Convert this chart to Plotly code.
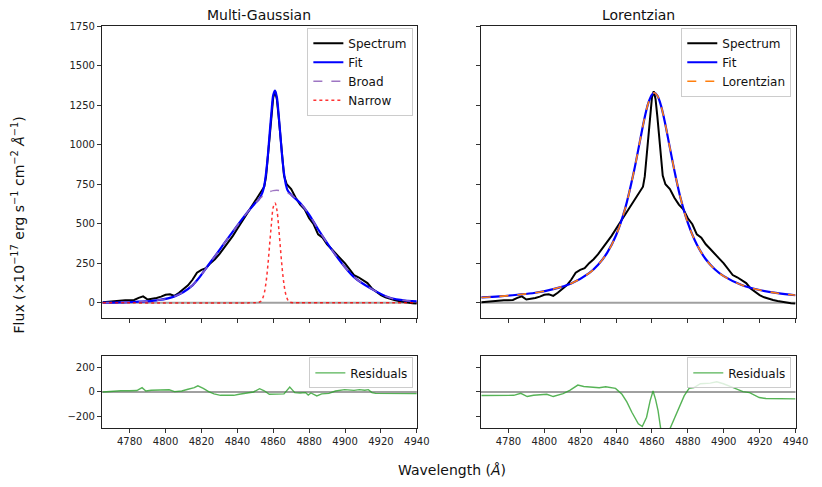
import plotly.graph_objects as go

# ---------------- data ----------------
wl_spec = [4765, 4767.5, 4770, 4772.5, 4775, 4777.5, 4780, 4782.5, 4785, 4787.5,
           4790, 4792.5, 4795, 4797.5, 4800, 4802.5, 4805, 4807.5, 4810, 4812.5,
           4815, 4817.5, 4820, 4822.5, 4825, 4827.5, 4830, 4832.5, 4835, 4837.5,
           4840, 4842.5, 4845, 4847.5, 4850, 4852.5, 4855,
           4856, 4857.5, 4859, 4860, 4861, 4862, 4863, 4864, 4865, 4866,
           4867.5, 4870, 4872.5, 4875, 4877.5, 4880, 4882.5, 4885, 4887.5, 4890,
           4892.5, 4895, 4897.5, 4900, 4902.5, 4905, 4907.5, 4910, 4912.5, 4915,
           4917.5, 4920, 4922.5, 4925, 4927.5, 4930, 4932.5, 4935, 4937.5, 4940]
flux_spec = [2, 5, 8, 12, 14, 15, 16, 17, 30, 40,
             20, 24, 30, 38, 50, 53, 43, 63, 84, 110,
             145, 190, 208, 218, 250, 275, 307, 345, 384, 423,
             468, 512, 559, 603, 648, 690, 735,
             800, 975, 1190, 1300, 1340, 1290, 1180, 1040, 905, 805,
             750, 720, 665, 621, 591, 535, 497, 433, 412, 370,
             340, 306, 279, 249, 211, 175, 161, 143, 124, 90,
             68, 48, 34, 23, 17, 11, 5, 0, -3, -6]

wl_fit = [4765, 4775, 4785, 4795, 4805, 4815, 4825, 4835, 4845, 4850,
          4852, 4854, 4855, 4856, 4857, 4858, 4859, 4860, 4861, 4862,
          4863, 4864, 4865, 4866, 4867, 4868, 4870, 4875, 4880, 4885,
          4895, 4905, 4915, 4925, 4935, 4940]
flux_fit = [0, 2, 6, 15, 40, 110, 256, 412, 564, 631,
            655, 699, 743, 822, 932, 1072, 1206, 1315, 1344, 1303,
            1193, 1057, 923, 819, 751, 713, 684, 631, 558, 465,
            298, 162, 86, 31, 12, 8]

wl_broad = [4765, 4775, 4785, 4795, 4805, 4815, 4825, 4835, 4845, 4850, 4855,
            4860, 4865, 4870, 4875, 4880, 4885, 4895, 4905, 4915, 4925, 4935, 4940]
flux_broad = [0, 2, 6, 15, 40, 110, 256, 412, 564, 631, 683,
              710, 708, 683, 631, 558, 465, 298, 162, 86, 31, 12, 8]

wl_narrow = [4765, 4850, 4852, 4853, 4854, 4855, 4856, 4857, 4858, 4859, 4860,
             4861, 4862, 4863, 4864, 4865, 4866, 4867, 4868, 4869, 4870, 4872, 4940]
flux_narrow = [0, 0, 3, 8, 25, 60, 130, 235, 370, 500, 605,
               632, 590, 480, 345, 215, 115, 52, 20, 6, 1, 0, 0]

wl_lor = [4765, 4775, 4785, 4795, 4805, 4815, 4825, 4830, 4835, 4840,
          4845, 4850, 4853, 4856, 4858, 4860, 4861.3, 4863, 4865, 4867,
          4870, 4873, 4876, 4880, 4885, 4890, 4895, 4900, 4910, 4920,
          4930, 4940]
flux_lor = [33, 40, 50, 63, 86, 122, 187, 240, 315, 427,
            594, 834, 1006, 1176, 1266, 1318, 1330, 1312, 1250, 1154,
            981, 810, 660, 505, 368, 275, 212, 168, 112, 80,
            60, 47]

wl_res_mg = [4765, 4770, 4775, 4780, 4784, 4786.9, 4789, 4792, 4796, 4800,
             4802, 4805, 4809, 4812, 4816, 4818, 4821, 4824, 4827, 4830.6,
             4834, 4838, 4841, 4846, 4849, 4852.4, 4855, 4857.8, 4862, 4866,
             4869.2, 4872, 4875, 4877, 4878, 4879.5, 4881, 4884.3, 4887, 4891,
             4894.7, 4899.8, 4902, 4905, 4908, 4911, 4913, 4915, 4917, 4920,
             4925, 4930, 4935, 4940]
res_mg = [0, 8, 10, 10, 12, 35, 8, 14, 16, 20,
          18, 3, 8, 20, 35, 50, 30, 3, -15, -27,
          -28, -27, -18, -5, 0, 27, 10, -19, -20, -15,
          40, -5, -8, -10, -5, -25, -8, -32, -15, -11,
          8, 19, 14, 13, 19, 14, 19, -5, -11, -12,
          -8, -10, -12, -13]

wl_res_lor = [4765, 4770, 4775, 4780, 4783, 4786.9, 4790.5, 4794, 4797.8, 4801.4,
              4805, 4808, 4810.5, 4814.2, 4818.7, 4822, 4825, 4828, 4830.6, 4834.2,
              4839.7, 4843.3, 4846, 4848.8, 4852.4, 4854.6, 4857, 4859, 4860.6, 4862,
              4863.4, 4865.2, 4867, 4868.8, 4871.6, 4874, 4876.1, 4878, 4880.7, 4883.4,
              4887, 4892.5, 4896.1, 4899.8, 4905.3, 4910.7, 4914.4, 4917, 4919.8, 4923.5,
              4929, 4935, 4940]
res_lor = [-29, -28, -27, -26, -27, -11, -37, -27, -21, -19,
           -37, -25, -13, 13, 56, 45, 40, 40, 35, 43,
           29, -19, -80, -165, -259, -280, -205, -70, 8, -60,
           -152, -330, -400, -340, -245, -160, -99, -30, 29, 35,
           67, 72, 83, 67, 35, 3, -5, -25, -45, -53,
           -53, -55, -56]

x_ticks = [4780, 4800, 4820, 4840, 4860, 4880, 4900, 4920, 4940]
flux_ticks = [0, 250, 500, 750, 1000, 1250, 1500, 1750]
res_ticks = [-200, 0, 200]

titles = ["Multi-Gaussian", "Lorentzian"]
ylabel = "Flux (×10<sup>−17</sup> erg s<sup>−1</sup> cm<sup>−2</sup> <i>Å</i><sup>−1</sup>)"
xlabel = "Wavelength (<i>Å</i>)"

# ---------------- styling ----------------
FONT = "DejaVu Sans"
BLACK = "#000000"
BLUE = "#0000ff"
PURPLE = "rgba(148,103,189,0.9)"
RED = "rgba(255,0,0,0.8)"
ORANGE = "#ff7f0e"
GREEN = "rgba(44,160,44,0.8)"

fig = go.Figure()

# top-left: multi-gaussian
fig.add_trace(go.Scatter(x=wl_spec, y=flux_spec, mode="lines", name="Spectrum",
                         line=dict(color=BLACK, width=2), xaxis="x", yaxis="y", legend="legend"))
fig.add_trace(go.Scatter(x=wl_fit, y=flux_fit, mode="lines", name="Fit", line_shape="spline",
                         line=dict(color=BLUE, width=2.2), xaxis="x", yaxis="y", legend="legend"))
fig.add_trace(go.Scatter(x=wl_broad, y=flux_broad, mode="lines", name="Broad", line_shape="spline",
                         line=dict(color=PURPLE, width=1.5, dash="dash"), xaxis="x", yaxis="y", legend="legend"))
fig.add_trace(go.Scatter(x=wl_narrow, y=flux_narrow, mode="lines", name="Narrow", line_shape="spline",
                         line=dict(color=RED, width=1.5, dash="dot"), xaxis="x", yaxis="y", legend="legend"))

# top-right: lorentzian
fig.add_trace(go.Scatter(x=wl_spec, y=flux_spec, mode="lines", name="Spectrum",
                         line=dict(color=BLACK, width=2), xaxis="x2", yaxis="y2", legend="legend2"))
fig.add_trace(go.Scatter(x=wl_lor, y=flux_lor, mode="lines", name="Fit", line_shape="spline",
                         line=dict(color=BLUE, width=2.2), xaxis="x2", yaxis="y2", legend="legend2"))
fig.add_trace(go.Scatter(x=wl_lor, y=flux_lor, mode="lines", name="Lorentzian", line_shape="spline",
                         line=dict(color=ORANGE, width=1.6, dash="dash"), xaxis="x2", yaxis="y2", legend="legend2"))

# residuals
fig.add_trace(go.Scatter(x=wl_res_mg, y=res_mg, mode="lines", name="Residuals",
                         line=dict(color=GREEN, width=1.4), xaxis="x3", yaxis="y3", legend="legend3"))
fig.add_trace(go.Scatter(x=wl_res_lor, y=res_lor, mode="lines", name="Residuals",
                         line=dict(color=GREEN, width=1.4), xaxis="x4", yaxis="y4", legend="legend4"))

# domains (paper fractions)
XL = [103.5 / 822, 423.5 / 822]
XR = [488.3 / 822, 808.3 / 822]
YT = [1 - 316.7 / 487, 1 - 21.7 / 487]
YB = [1 - 427.7 / 487, 1 - 354.3 / 487]
XRANGE = [4764.5, 4940]

def xax(domain, anchor, labels):
    return dict(domain=domain, anchor=anchor, range=XRANGE, tickmode="array", tickvals=x_ticks,
                showticklabels=labels, ticks="outside", ticklen=4, tickwidth=1, tickcolor="#333",
                showline=True, mirror=True, linecolor="#222", linewidth=1, showgrid=False,
                zeroline=False, tickfont=dict(family=FONT, size=10, color="#222"))

def yax(domain, anchor, rng, vals, labels):
    return dict(domain=domain, anchor=anchor, range=rng, tickmode="array", tickvals=vals,
                showticklabels=labels, ticks="outside", ticklen=4, tickwidth=1, tickcolor="#333",
                showline=True, mirror=True, linecolor="#222", linewidth=1, showgrid=False,
                zeroline=False, tickfont=dict(family=FONT, size=10, color="#222"))

legend_style = dict(bgcolor="rgba(255,255,255,0.8)", bordercolor="#cccccc", borderwidth=1,
                    font=dict(family=FONT, size=12, color="#111"), xanchor="right", yanchor="top",
                    itemclick=False, tracegroupgap=0)

fig.update_layout(
    autosize=True,
    margin=dict(l=0, r=0, t=0, b=0),
    paper_bgcolor="white", plot_bgcolor="white",
    font=dict(family=FONT),
    xaxis=xax(XL, "y", False), yaxis=yax(YT, "x", [-100, 1750], flux_ticks, True),
    xaxis2=xax(XR, "y2", False), yaxis2=yax(YT, "x2", [-100, 1750], flux_ticks, False),
    xaxis3=xax(XL, "y3", True), yaxis3=yax(YB, "x3", [-295, 295], res_ticks, True),
    xaxis4=xax(XR, "y4", True), yaxis4=yax(YB, "x4", [-295, 295], res_ticks, False),
    legend=dict(x=420 / 822, y=1 - 23 / 487, **legend_style),
    legend2=dict(x=804 / 822, y=1 - 23 / 487, **legend_style),
    legend3=dict(x=420 / 822, y=1 - 356 / 487, **legend_style),
    legend4=dict(x=804 / 822, y=1 - 356 / 487, **legend_style),
    showlegend=True,
)

# zero reference lines
for xr, yr in [("x", "y"), ("x2", "y2"), ("x3", "y3"), ("x4", "y4")]:
    fig.add_shape(type="line", xref=f"{xr} domain", yref=yr, x0=0, x1=1, y0=0, y1=0,
                  line=dict(color="rgba(128,128,128,0.75)", width=2), layer="below")

# titles and axis labels
fig.add_annotation(text=titles[0], xref="paper", yref="paper", x=(XL[0] + XL[1]) / 2, y=1 - 10 / 487,
                   showarrow=False, font=dict(family=FONT, size=14, color="#111"),
                   xanchor="center", yanchor="middle")
fig.add_annotation(text=titles[1], xref="paper", yref="paper", x=(XR[0] + XR[1]) / 2, y=1 - 10 / 487,
                   showarrow=False, font=dict(family=FONT, size=14, color="#111"),
                   xanchor="center", yanchor="middle")
fig.add_annotation(text=ylabel, xref="paper", yref="paper", x=18 / 822, y=1 - 222 / 487,
                   showarrow=False, textangle=-90, font=dict(family=FONT, size=14, color="#111"),
                   xanchor="center", yanchor="middle")
fig.add_annotation(text=xlabel, xref="paper", yref="paper", x=459 / 822, y=1 - 470 / 487,
                   showarrow=False, font=dict(family=FONT, size=14, color="#111"),
                   xanchor="center", yanchor="middle")

# make the plot fill the browser window exactly
page_js = (
    "var h=document.documentElement,b=document.body;"
    "h.style.margin='0';h.style.padding='0';h.style.height='100%';h.style.overflow='hidden';"
    "b.style.margin='0';b.style.padding='0';b.style.height='100%';b.style.overflow='hidden';"
    "var gd=document.getElementById('{plot_id}');"
    "gd.parentElement.style.height='100%';gd.parentElement.style.width='100%';"
    "gd.style.height='100%';gd.style.width='100%';"
    "Plotly.Plots.resize(gd);"
)

fig.write_html("out.html", config={"displayModeBar": False, "responsive": True},
               default_width="100%", default_height="100%", post_script=page_js)
